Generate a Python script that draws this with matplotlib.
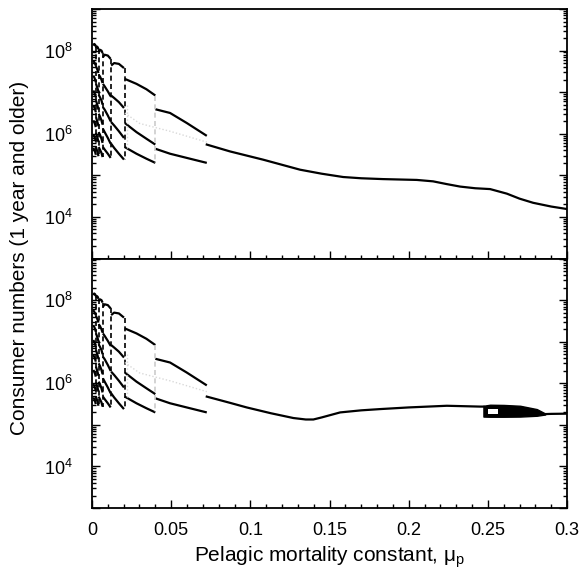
import numpy as np
import matplotlib
matplotlib.use('Agg')
import matplotlib.pyplot as plt
from matplotlib import rc
from matplotlib.ticker import LogLocator, MultipleLocator, NullFormatter, FixedLocator

rc('font', **{'family': 'sans-serif', 'sans-serif': ['Liberation Sans', 'DejaVu Sans']})
rc('mathtext', fontset='custom', rm='Liberation Sans', it='Liberation Sans:italic')

# cycle branches at low mortality, values are log10(consumer numbers)
cyc2_x = [0.0400, 0.0493, 0.0598, 0.0725]
cyc2_log = [[6.59, 6.50, 6.26, 5.95],
            [5.64, 5.52, 5.42, 5.30]]
cyc3_x = [0.0207, 0.0281, 0.0344, 0.0400]
cyc3_log = [[7.32, 7.20, 7.07, 6.92],
            [6.26, 6.04, 5.88, 5.74],
            [5.68, 5.52, 5.40, 5.30]]
cyc4_x = [0.0121, 0.0140, 0.0170, 0.0202]
cyc4_log = [[7.64, 7.70, 7.68, 7.58],
            [6.92, 6.86, 6.76, 6.62],
            [6.28, 6.20, 6.06, 5.90],
            [5.76, 5.66, 5.52, 5.38]]
cyc5_x = [0.0069, 0.0080, 0.0100, 0.0118]
cyc5_log = [[7.84, 7.90, 7.88, 7.80],
            [7.20, 7.14, 7.02, 6.90],
            [6.64, 6.58, 6.44, 6.30],
            [6.12, 6.04, 5.90, 5.76],
            [5.68, 5.62, 5.52, 5.42]]
cyc6_x = [0.0042, 0.0050, 0.0060, 0.0067]
cyc6_log = [[7.98, 8.02, 8.00, 7.94],
            [7.42, 7.38, 7.30, 7.22],
            [6.94, 6.88, 6.80, 6.70],
            [6.48, 6.42, 6.32, 6.22],
            [6.04, 5.98, 5.88, 5.78],
            [5.68, 5.62, 5.54, 5.44]]
cyc7_x = [0.0025, 0.0030, 0.0036, 0.0041]
cyc7_log = [[8.06, 8.10, 8.08, 8.03],
            [7.62, 7.58, 7.52, 7.46],
            [7.20, 7.15, 7.08, 7.00],
            [6.80, 6.74, 6.66, 6.58],
            [6.40, 6.34, 6.26, 6.18],
            [6.02, 5.96, 5.88, 5.80],
            [5.68, 5.62, 5.54, 5.46]]
cyc8_x = [0.0008, 0.0014, 0.0020, 0.0024]
cyc8_log = [[8.12, 8.16, 8.14, 8.10],
            [7.76, 7.72, 7.68, 7.64],
            [7.40, 7.36, 7.30, 7.24],
            [7.04, 7.00, 6.94, 6.88],
            [6.68, 6.64, 6.58, 6.52],
            [6.32, 6.28, 6.22, 6.16],
            [5.98, 5.94, 5.88, 5.82],
            [5.66, 5.62, 5.56, 5.50]]

# unstable equilibrium (grey)
unst_x = [0.0207, 0.0300, 0.0400, 0.0493, 0.0725]
unst_log = [6.50, 6.25, 6.15, 6.06, 5.80]

# stable equilibrium, top panel
top_x = [0.0725, 0.0872, 0.1082, 0.1314, 0.1450, 0.1586, 0.1700, 0.1838, 0.2051,
         0.2154, 0.2240, 0.2325, 0.2420, 0.2514, 0.2620, 0.2700, 0.2786, 0.2900, 0.3000]
top_log = [5.74, 5.575, 5.376, 5.136, 5.04, 4.96, 4.93, 4.91, 4.89,
           4.856, 4.79, 4.73, 4.69, 4.67, 4.56, 4.44, 4.34, 4.25, 4.19]

# stable equilibrium, bottom panel
bot_x = [0.0725, 0.0872, 0.0977, 0.1130, 0.1272, 0.1350, 0.1398, 0.1451,
         0.1567, 0.1700, 0.1819, 0.2000, 0.2241, 0.2451, 0.2472]
bot_log = [5.68, 5.53, 5.42, 5.28, 5.165, 5.13, 5.13, 5.18,
           5.30, 5.35, 5.38, 5.42, 5.46, 5.44, 5.44]
bot2_x = [0.2862, 0.2900, 0.3000]
bot2_log = [5.26, 5.265, 5.27]

# limit cycle band, bottom panel
band_x = [0.2472, 0.2514, 0.2600, 0.2704, 0.2809, 0.2862]
band_hi = [5.46, 5.485, 5.48, 5.46, 5.38, 5.275]
band_lo = [5.20, 5.196, 5.196, 5.20, 5.22, 5.25]
hole_x = [0.2503, 0.2566]
hole_hi = [5.38, 5.38]
hole_lo = [5.26, 5.26]

groups = [(cyc8_x, cyc8_log), (cyc7_x, cyc7_log), (cyc6_x, cyc6_log),
          (cyc5_x, cyc5_log), (cyc4_x, cyc4_log), (cyc3_x, cyc3_log),
          (cyc2_x, cyc2_log)]

fig, (ax1, ax2) = plt.subplots(2, 1, sharex=True, figsize=(5.87, 5.84), dpi=100)
fig.subplots_adjust(left=0.1567, right=0.966, top=0.9846, bottom=0.130, hspace=0)

lw = 1.6
for ax in (ax1, ax2):
    for gx, glog in groups:
        for c in glog:
            ax.plot(gx, 10**np.array(c), color='black', lw=lw, solid_capstyle='butt')
    # dashed jumps between cycle groups
    for i in range(len(groups) - 1):
        lx, llog = groups[i]
        rx, rlog = groups[i+1]
        xb = rx[0]
        top = max(llog[0][-1], rlog[0][0])
        low = min(llog[-1][-1], rlog[-1][0])
        col = 'black' if i < len(groups) - 2 else '0.8'
        ax.plot([xb, xb], [10**top, 10**low], color=col, lw=1.2, ls=(0, (3, 2)))
    ax.plot(unst_x, 10**np.array(unst_log), color='0.85', lw=1.0, ls=(0, (1, 1.5)))
    ax.plot([0.0222, 0.0222], [10**6.7, 10**5.6], color='0.85', lw=1.0, ls=(0, (1, 1.5)))

ax1.plot(top_x, 10**np.array(top_log), color='black', lw=lw)
ax2.plot(bot_x, 10**np.array(bot_log), color='black', lw=lw)
ax2.plot(bot2_x, 10**np.array(bot2_log), color='black', lw=lw)
ax2.fill_between(band_x, 10**np.array(band_lo), 10**np.array(band_hi), color='black', lw=1.0)
ax2.fill_between(hole_x, 10**np.array(hole_lo), 10**np.array(hole_hi), color='white', lw=0)

ylabels = ['', '$10^4$', '', '$10^6$', '', '$10^8$', '']
for ax in (ax1, ax2):
    ax.set_yscale('log')
    ax.set_ylim(1e3, 1e9)
    ax.set_xlim(0, 0.3)
    ax.yaxis.set_major_locator(FixedLocator([10.0**k for k in range(3, 10)]))
    ax.set_yticklabels(ylabels)
    ax.yaxis.set_minor_locator(LogLocator(base=10, subs=np.arange(2, 10), numticks=20))
    ax.yaxis.set_minor_formatter(NullFormatter())
    ax.xaxis.set_major_locator(MultipleLocator(0.05))
    ax.xaxis.set_minor_locator(MultipleLocator(0.01))
    ax.tick_params(which='both', direction='in', top=False, right=True, width=1.0)
    ax.tick_params(which='major', length=6)
    ax.tick_params(which='minor', length=3)
    ax.tick_params(axis='y', labelsize=13, pad=14)
    ax.tick_params(axis='x', labelsize=13, pad=10)
    for s in ax.spines.values():
        s.set_linewidth(1.3)

ax1.tick_params(labelbottom=False)
ax2.set_xticks([0, 0.05, 0.1, 0.15, 0.2, 0.25, 0.3])
ax2.set_xticklabels(['0', '0.05', '0.1', '0.15', '0.2', '0.25', '0.3'])

fig.text(0.034, 0.558, 'Consumer numbers (1 year and older)', rotation=90,
         ha='center', va='center', fontsize=15)
fig.text(0.5613, 0.045, r'Pelagic mortality constant, μ$_{\mathrm{p}}$',
         ha='center', va='center', fontsize=15)

plt.savefig('out.png', dpi=100)
